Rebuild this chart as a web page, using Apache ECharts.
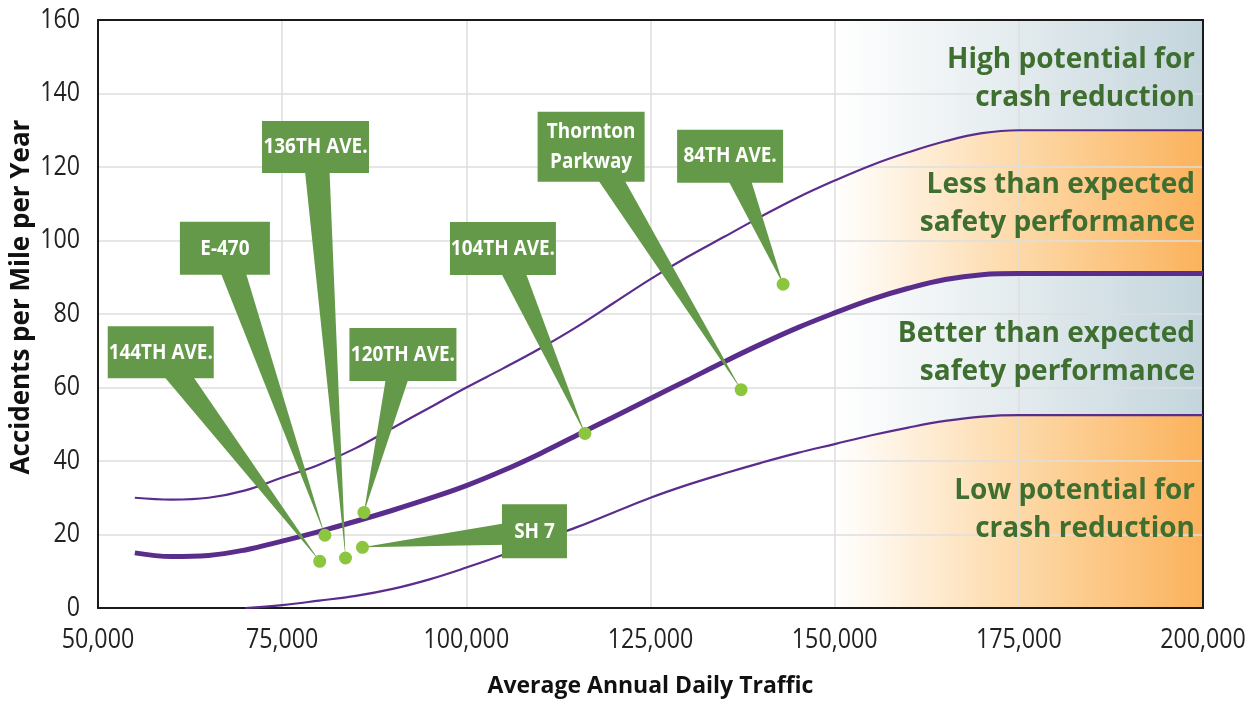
<!DOCTYPE html>
<html>
<head>
<meta charset="utf-8">
<script src="https://cdn.jsdelivr.net/npm/echarts@6/dist/echarts.min.js"></script>
<style>
  html, body { margin: 0; padding: 0; background: #fff; }
  #chart { width: 1253px; height: 703px; }
</style>
</head>
<body>
<div id="chart"></div>
<script>
// curve x positions (AADT)
const aadt = [55000, 60000, 65000, 70000, 75000, 80000, 85000, 90000, 95000, 100000,
  105000, 110000, 115000, 120000, 125000, 130000, 135000, 140000, 145000, 150000,
  155000, 160000, 165000, 170000, 175000, 180000, 185000, 190000, 195000, 200000];
// upper limit, expected and lower limit (accidents per mile per year)
const upperBound = [30, 29.5, 30, 32, 35.5, 39, 43.5, 49, 54.5, 60,
  65.2, 70.6, 76.5, 83, 89.5, 95.5, 101, 106.5, 111.7, 116.3,
  120.5, 124, 127, 129.2, 130, 130, 130, 130, 130, 130];
const expected = [15, 14, 14.3, 15.8, 18.2, 20.8, 23.6, 26.6, 29.8, 33.3,
  37.4, 42, 47, 52, 57, 62, 67, 71.8, 76.3, 80.3,
  84, 87, 89.4, 90.7, 91, 91, 91, 91, 91, 91];
const lowerBound = [null, null, null, 0, 0.8, 2, 3.3, 5.2, 7.8, 11,
  14.5, 18.3, 22, 26, 30, 33.5, 36.6, 39.5, 42.2, 44.6,
  47, 49.1, 50.9, 52.1, 52.5, 52.5, 52.5, 52.5, 52.5, 52.5];
const topLimit = 160;

// roads
const roadNames = ['144TH AVE.', 'E-470', '136TH AVE.', '120TH AVE.', 'SH 7', '104TH AVE.', 'Thornton\nParkway', '84TH AVE.'];
const roadAadt = [80100, 80800, 83600, 86100, 85900, 116100, 137300, 143000];
const roadRate = [12.7, 19.8, 13.6, 26.0, 16.5, 47.5, 59.4, 88.1];

const xTicks = [50000, 75000, 100000, 125000, 150000, 175000, 200000];
const yTicks = [0, 20, 40, 60, 80, 100, 120, 140, 160];

const zoneLabels = [
  'High potential for\ncrash reduction',
  'Less than expected\nsafety performance',
  'Better than expected\nsafety performance',
  'Low potential for\ncrash reduction'
];

// layout: callout box centre offset from its point (px) and box size (px)
const calloutOffset = [[-159, -209], [-100, -287], [-30, -411], [39, -158], [172, -16], [-82, -185], [-150, -243], [-53, -128]];
const calloutSize = [[106, 52], [90, 53], [107, 52], [107, 53], [65, 54], [106, 53], [107, 70], [106, 53]];
// layout: vertical anchor of each zone label, in axis units
const zoneLabelAt = [144.0, 110.0, 69.3, 26.7];

const GREEN_BOX = '#639948';
const DOT = '#8cc63f';
const PURPLE = '#5a2d8c';
const SANS = '"Open Sans", "Noto Sans", sans-serif';
const SQUEEZE = 0.86; // stands in for the condensed face of the original

const pairs = (ys) => aadt.map((x, i) => [x, ys[i]]);
const bandPairs = (ys) => pairs(ys).filter((p) => p[0] >= 150000);

const grad = (c1, c2) => ({
  type: 'linear', x: 0, y: 0, x2: 1, y2: 0,
  colorStops: [
    { offset: 0, color: '#ffffff' },
    { offset: 0.5, color: c1 },
    { offset: 1, color: c2 }
  ]
});
const blueFill = grad('#e3ebee', '#c3d5dc');
const orangeFill = grad('#fdd9a8', '#fbb25c');

const band = (ys, fill) => ({
  type: 'line',
  data: bandPairs(ys),
  smooth: 0.4,
  symbol: 'none',
  lineStyle: { width: 0 },
  areaStyle: { color: fill, opacity: 1 },
  silent: true,
  z: -1
});

const curve = (ys, width) => ({
  type: 'line',
  data: pairs(ys),
  smooth: 0.4,
  symbol: 'none',
  lineStyle: { color: PURPLE, width: width },
  z: 2
});

const squeezedText = (text, x, y, align, style) => ({
  type: 'text',
  x: x, y: y,
  scaleX: SQUEEZE,
  style: Object.assign({
    text: text, x: 0, y: 0,
    align: align, verticalAlign: 'middle',
    fontFamily: SANS
  }, style)
});

const renderCallout = (params, api) => {
  const i = params.dataIndex;
  const p = api.coord([api.value(0), api.value(1)]);
  const cx = p[0] + calloutOffset[i][0];
  const cy = p[1] + calloutOffset[i][1];
  const w = calloutSize[i][0];
  const h = calloutSize[i][1];
  const dx = p[0] - cx, dy = p[1] - cy;
  const len = Math.sqrt(dx * dx + dy * dy);
  const nx = -dy / len * 13, ny = dx / len * 13;
  return {
    type: 'group',
    children: [
      {
        type: 'polygon',
        shape: { points: [[cx + nx, cy + ny], [cx - nx, cy - ny], p] },
        style: { fill: GREEN_BOX }
      },
      {
        type: 'rect',
        shape: { x: cx - w / 2, y: cy - h / 2, width: w, height: h },
        style: { fill: GREEN_BOX }
      },
      squeezedText(roadNames[i], cx, cy, 'center', {
        fill: '#ffffff', fontSize: 22, fontWeight: 'bold', lineHeight: 30
      })
    ]
  };
};

const tickStyle = { fill: '#222', fontSize: 27 };

const chart = echarts.init(document.getElementById('chart'));
chart.setOption({
  animation: false,
  backgroundColor: '#ffffff',
  grid: { left: 98, right: 50, top: 20, bottom: 93 },
  xAxis: [
    {
      type: 'value',
      min: xTicks[0], max: xTicks[xTicks.length - 1], interval: 25000,
      name: 'Average Annual Daily Traffic',
      nameLocation: 'middle', nameGap: 67,
      nameTextStyle: { fontSize: 23, fontWeight: 'bold', color: '#111', fontFamily: SANS },
      axisLine: { show: true, lineStyle: { color: '#1a1a1a', width: 2 } },
      axisTick: { show: false },
      axisLabel: { show: false },
      splitLine: { show: true, lineStyle: { color: '#dedede', width: 1.5 } }
    },
    {
      type: 'value', position: 'top',
      min: xTicks[0], max: xTicks[xTicks.length - 1],
      axisLine: { show: true, onZero: false, lineStyle: { color: '#1a1a1a', width: 2 } },
      axisTick: { show: false }, axisLabel: { show: false }, splitLine: { show: false }
    }
  ],
  yAxis: [
    {
      type: 'value',
      min: yTicks[0], max: yTicks[yTicks.length - 1], interval: 20,
      axisLine: { show: true, lineStyle: { color: '#1a1a1a', width: 2 } },
      axisTick: { show: false },
      axisLabel: { show: false },
      splitLine: { show: true, lineStyle: { color: '#dedede', width: 1.5 } }
    },
    {
      type: 'value', position: 'right',
      min: yTicks[0], max: yTicks[yTicks.length - 1],
      axisLine: { show: true, onZero: false, lineStyle: { color: '#1a1a1a', width: 2 } },
      axisTick: { show: false }, axisLabel: { show: false }, splitLine: { show: false }
    }
  ],
  graphic: [
    {
      type: 'text', x: 22, y: 297, rotation: Math.PI / 2,
      style: {
        text: 'Accidents per Mile per Year',
        align: 'center', verticalAlign: 'middle',
        fontSize: 26, fontWeight: 'bold', fill: '#111', fontFamily: SANS
      }
    }
  ],
  series: [
    band(aadt.map(() => topLimit), blueFill),
    band(upperBound, orangeFill),
    band(expected, blueFill),
    band(lowerBound, orangeFill),
    curve(upperBound, 2.2),
    curve(expected, 5),
    curve(lowerBound, 2.2),
    {
      // x tick labels
      type: 'custom',
      data: xTicks.map((v) => [v, 0]),
      clip: false, silent: true, z: 5,
      renderItem: (params, api) => {
        const p = api.coord([api.value(0), api.value(1)]);
        return squeezedText(api.value(0).toLocaleString('en-US'), p[0], p[1] + 32, 'center', tickStyle);
      }
    },
    {
      // y tick labels
      type: 'custom',
      data: yTicks.map((v) => [xTicks[0], v]),
      clip: false, silent: true, z: 5,
      renderItem: (params, api) => {
        const p = api.coord([api.value(0), api.value(1)]);
        return squeezedText(String(api.value(1)), p[0] - 18, p[1], 'right', tickStyle);
      }
    },
    {
      // zone labels at the right edge
      type: 'custom',
      data: zoneLabelAt.map((v) => [xTicks[xTicks.length - 1], v]),
      clip: false, silent: true, z: 5,
      renderItem: (params, api) => {
        const p = api.coord([api.value(0), api.value(1)]);
        return {
          type: 'text',
          style: {
            text: zoneLabels[params.dataIndex], x: p[0] - 8, y: p[1],
            align: 'right', verticalAlign: 'middle', lineHeight: 38,
            fontSize: 28, fontWeight: 'bold', fill: '#3f6f30', fontFamily: SANS
          }
        };
      }
    },
    {
      type: 'custom',
      data: roadAadt.map((x, i) => [x, roadRate[i]]),
      renderItem: renderCallout,
      clip: false,
      z: 3
    },
    {
      type: 'scatter',
      data: roadAadt.map((x, i) => [x, roadRate[i]]),
      symbolSize: 13,
      itemStyle: { color: DOT, opacity: 1 },
      z: 4
    }
  ]
});
</script>
</body>
</html>
